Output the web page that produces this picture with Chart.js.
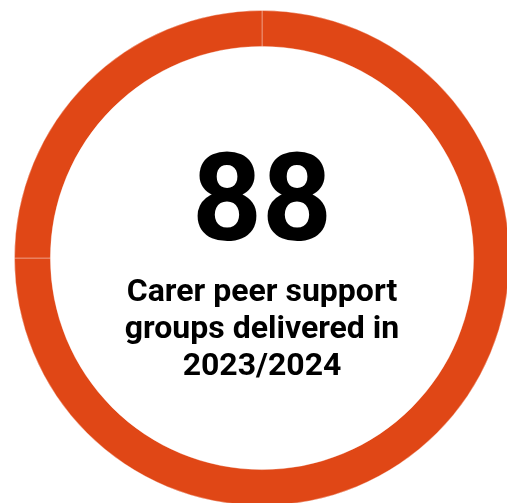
<!DOCTYPE html>
<html>
<head>
<meta charset="utf-8">
<script src="https://cdn.jsdelivr.net/npm/chart.js@4"></script>
<style>
  html, body { margin: 0; padding: 0; background: #fff; overflow: hidden; }
  body { width: 507px; height: 503px; position: relative; }
  #ring { position: absolute; left: 14px; top: 10px; }
</style>
</head>
<body>
<canvas id="ring" width="496" height="496"></canvas>
<script>
// Ring segments (same colour, seams at top and left)
const segments = ['Delivered', 'Remaining'];
const segmentValues = [75, 25];
const totalGroups = '88';
const labelLines = ['Carer peer support', 'groups delivered in', '2023/2024'];

const ringColour = '#e04716';

// Big number + caption drawn in the hole of the doughnut
const centreText = {
    id: 'centreText',
    afterDraw(chart) {
        const { ctx } = chart;
        const arc = chart.getDatasetMeta(0).data[0];
        const cx = arc.x;
        const cy = arc.y;
        ctx.save();
        ctx.fillStyle = '#000';
        ctx.textAlign = 'center';
        ctx.textBaseline = 'alphabetic';

        ctx.font = 'bold 122px Roboto';
        ctx.fillText(totalGroups, cx, cy - 18);

        ctx.font = 'bold 32px Roboto';
        labelLines.forEach((line, i) => {
            ctx.fillText(line, cx, cy + 43 + i * 37);
        });
        ctx.restore();
    }
};

new Chart(document.getElementById('ring'), {
    type: 'doughnut',
    data: {
        labels: segments,
        datasets: [{
            data: segmentValues,
            backgroundColor: ringColour,
            borderColor: 'rgba(255,255,255,0.35)',
            borderWidth: 1
        }]
    },
    options: {
        responsive: false,
        animation: false,
        cutout: '85.5%',
        layout: { padding: 0 },
        plugins: {
            legend: { display: false },
            tooltip: { enabled: false }
        }
    },
    plugins: [centreText]
});
</script>
</body>
</html>
